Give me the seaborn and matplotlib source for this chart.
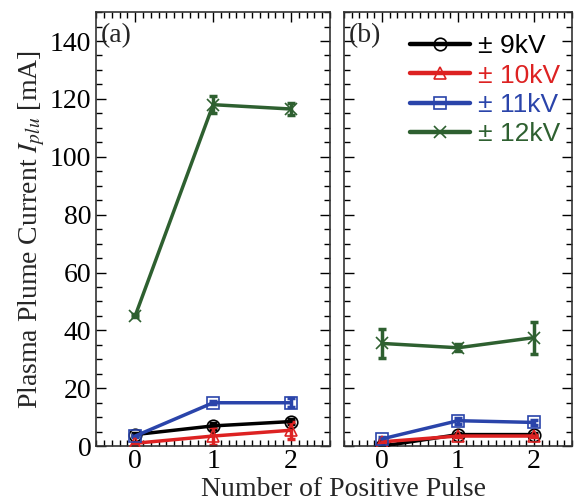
import numpy as np
import pandas as pd
import matplotlib
matplotlib.use('Agg')
import matplotlib.pyplot as plt
from matplotlib.ticker import MultipleLocator
import seaborn as sns

# data
pulses = [0, 1, 2]
voltages = ['± 9kV', '± 10kV', '± 11kV', '± 12kV']
colors = ['#000000', '#dd2222', '#2a44aa', '#2e6030']
markers = ['o', '^', 's', 'x']

a_9kv = [4.0, 7.0, 8.5]
a_10kv = [1.0, 3.5, 5.5]
a_11kv = [3.5, 15.0, 15.0]
a_12kv = [45.0, 118.0, 116.5]
a_err_9kv = [0.5, 1.0, 1.0]
a_err_10kv = [0.5, 3.0, 3.0]
a_err_11kv = [0.5, 0.5, 1.5]
a_err_12kv = [0.5, 3.0, 2.0]

b_9kv = [0.0, 4.0, 4.0]
b_10kv = [1.5, 3.5, 3.5]
b_11kv = [2.5, 8.8, 8.2]
b_12kv = [35.5, 34.0, 37.5]
b_err_9kv = [0.5, 0.5, 0.5]
b_err_10kv = [0.5, 0.5, 0.5]
b_err_11kv = [0.5, 1.0, 1.0]
b_err_12kv = [5.0, 1.2, 5.5]

panels = {
    '(a)': ([a_9kv, a_10kv, a_11kv, a_12kv], [a_err_9kv, a_err_10kv, a_err_11kv, a_err_12kv]),
    '(b)': ([b_9kv, b_10kv, b_11kv, b_12kv], [b_err_9kv, b_err_10kv, b_err_11kv, b_err_12kv]),
}

sns.set_style('ticks')
plt.rcParams['font.family'] = ['Liberation Serif', 'DejaVu Serif']
plt.rcParams['mathtext.fontset'] = 'stix'

fig = plt.figure(figsize=(5.83, 5.03), dpi=100)
ax_a = fig.add_axes([0.165, 0.113, 0.401, 0.863])
ax_b = fig.add_axes([0.590, 0.113, 0.391, 0.863])

for ax, (label, (series, errs)) in zip([ax_a, ax_b], panels.items()):
    for name, vals, err, c, m in zip(voltages, series, errs, colors, markers):
        df = pd.DataFrame({'pulse': pulses, 'current': vals})
        ax.errorbar(pulses, vals, yerr=err, fmt='none', ecolor=c, elinewidth=2.5,
                    capsize=3, capthick=2.5, zorder=2)
        sns.lineplot(data=df, x='pulse', y='current', ax=ax, color=c, marker=m,
                     markersize=9, markerfacecolor='none', markeredgecolor=c,
                     markeredgewidth=1.2, linewidth=2.5, label=name, legend=False, zorder=3)
    ax.set_xlim(-0.5, 2.5)
    ax.set_ylim(0, 150)
    ax.xaxis.set_major_locator(MultipleLocator(1))
    ax.xaxis.set_minor_locator(MultipleLocator(0.1))
    ax.yaxis.set_major_locator(MultipleLocator(20))
    ax.yaxis.set_minor_locator(MultipleLocator(5))
    ax.tick_params(which='both', direction='in', top=True, right=True, labelsize=20,
                   color='black', labelcolor='black')
    ax.tick_params(axis='x', pad=2)
    ax.tick_params(which='major', length=7, width=1)
    ax.tick_params(which='minor', length=4, width=1)
    ax.set_xlabel('')
    ax.set_ylabel('')
    for s in ax.spines.values():
        s.set_linewidth(1.2)
        s.set_color('#333333')
    ax.text(0.02, 0.975, label, transform=ax.transAxes, fontsize=20, va='top', ha='left')

ax_b.tick_params(axis='y', labelleft=False)
ax_a.set_ylabel('Plasma Plume Current $I_{plu}$ [mA]', fontsize=20, labelpad=2)

handles, labels = ax_b.get_legend_handles_labels()
leg = ax_b.legend(handles, labels, loc='upper right', bbox_to_anchor=(1.02, 0.985), frameon=False,
                  prop={'family': 'Liberation Sans', 'size': 19}, handlelength=2.3,
                  handletextpad=0.3, labelspacing=0.2, borderaxespad=0.2)
for t, c in zip(leg.get_texts(), colors):
    t.set_color(c)
for h in leg.get_lines():
    h.set_linewidth(3.2)

fig.text(0.59, 0.002, 'Number of Positive Pulse', fontsize=20, ha='center', va='bottom')

fig.savefig('out.png', dpi=100)
